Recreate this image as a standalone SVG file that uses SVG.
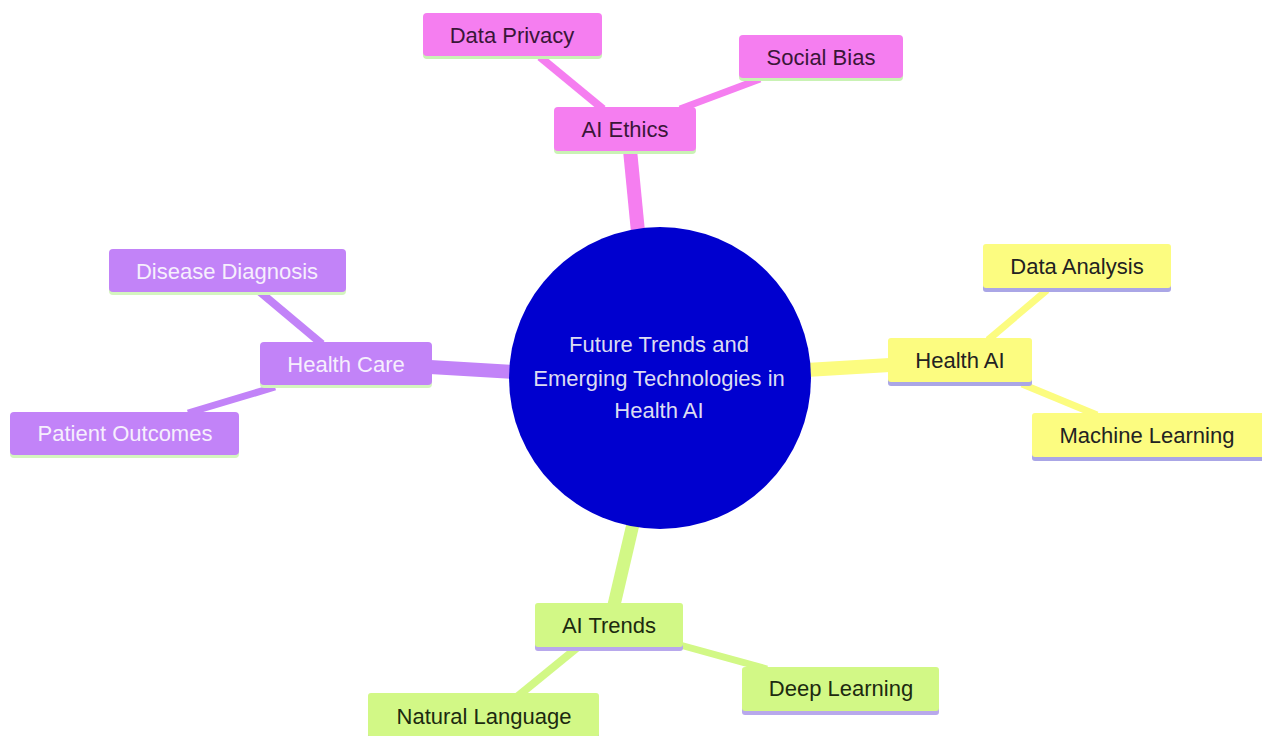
<svg xmlns="http://www.w3.org/2000/svg" width="1262" height="736" viewBox="0 0 1262 736">
<style>
  text { font-family: "Liberation Sans", Arial, sans-serif; font-size: 22px; text-anchor: middle; dominant-baseline: central; }
  .pink rect.box { fill: #f57ef0; }
  .pink rect.edge { fill: #c9f2b4; }
  .pink text { fill: #3a1638; }
  .purple rect.box { fill: #c283f8; }
  .purple rect.edge { fill: #d4f5bf; }
  .purple text { fill: #f6effd; }
  .yellow rect.box { fill: #fcfc80; }
  .yellow rect.edge { fill: #aaa6e6; }
  .yellow text { fill: #222222; }
  .green rect.box { fill: #d2f886; }
  .green rect.edge { fill: #b8a8ec; }
  .green text { fill: #1c2a10; }
  .c-pink { stroke: #f57ef0; }
  .c-purple { stroke: #c283f8; }
  .c-yellow { stroke: #fcfc80; }
  .c-green { stroke: #d2f886; }
  #connectors line { stroke-linecap: butt; fill: none; }
</style>
<rect x="0" y="0" width="1262" height="736" fill="#ffffff"/>
<g id="connectors">
  <line class="c-pink" x1="630" y1="150" x2="638" y2="232" stroke-width="14"/>
  <line class="c-pink" x1="540" y1="57" x2="603" y2="109" stroke-width="8"/>
  <line class="c-pink" x1="760" y1="79" x2="680" y2="109" stroke-width="7"/>
  <line class="c-purple" x1="430" y1="367" x2="514" y2="372" stroke-width="14"/>
  <line class="c-purple" x1="260" y1="292" x2="322" y2="344" stroke-width="8"/>
  <line class="c-purple" x1="188" y1="413" x2="275" y2="387" stroke-width="7"/>
  <line class="c-yellow" x1="806" y1="370" x2="890" y2="365" stroke-width="14"/>
  <line class="c-yellow" x1="1047" y1="290" x2="988" y2="340" stroke-width="7"/>
  <line class="c-yellow" x1="1022" y1="384" x2="1097" y2="415" stroke-width="7"/>
  <line class="c-green" x1="633" y1="524" x2="614" y2="605" stroke-width="13"/>
  <line class="c-green" x1="518" y1="696" x2="578" y2="647" stroke-width="8"/>
  <line class="c-green" x1="680" y1="645" x2="767" y2="669" stroke-width="7"/>
</g>
<g id="root">
  <circle cx="660" cy="378" r="151" fill="#0000cf"/>
  <text x="659" y="344" fill="#dcdcf2">Future Trends and</text>
  <text x="659" y="378" fill="#dcdcf2">Emerging Technologies in</text>
  <text x="659" y="410" fill="#dcdcf2">Health AI</text>
</g>
<g id="ai-ethics" class="pink">
  <rect class="edge" x="554" y="110" width="142" height="44" rx="4"/>
  <rect class="box" x="554" y="107" width="142" height="44" rx="4"/>
  <text x="625" y="129">AI Ethics</text>
</g>
<g id="data-privacy" class="pink">
  <rect class="edge" x="423" y="16" width="179" height="43" rx="4"/>
  <rect class="box" x="423" y="13" width="179" height="43" rx="4"/>
  <text x="512" y="35">Data Privacy</text>
</g>
<g id="social-bias" class="pink">
  <rect class="edge" x="739" y="38" width="164" height="43" rx="4"/>
  <rect class="box" x="739" y="35" width="164" height="43" rx="4"/>
  <text x="821" y="57">Social Bias</text>
</g>
<g id="health-care" class="purple">
  <rect class="edge" x="260" y="345" width="172" height="43" rx="4"/>
  <rect class="box" x="260" y="342" width="172" height="43" rx="4"/>
  <text x="346" y="364">Health Care</text>
</g>
<g id="disease-diagnosis" class="purple">
  <rect class="edge" x="109" y="252" width="237" height="43" rx="4"/>
  <rect class="box" x="109" y="249" width="237" height="43" rx="4"/>
  <text x="227" y="271">Disease Diagnosis</text>
</g>
<g id="patient-outcomes" class="purple">
  <rect class="edge" x="10" y="415" width="229" height="43" rx="4"/>
  <rect class="box" x="10" y="412" width="229" height="43" rx="4"/>
  <text x="125" y="433">Patient Outcomes</text>
</g>
<g id="health-ai" class="yellow">
  <rect class="edge" x="888" y="341" width="144" height="45" rx="3"/>
  <rect class="box" x="888" y="338" width="144" height="44" rx="3"/>
  <text x="960" y="360">Health AI</text>
</g>
<g id="data-analysis" class="yellow">
  <rect class="edge" x="983" y="247" width="188" height="45" rx="3"/>
  <rect class="box" x="983" y="244" width="188" height="44" rx="3"/>
  <text x="1077" y="266">Data Analysis</text>
</g>
<g id="machine-learning" class="yellow">
  <rect class="edge" x="1032" y="416" width="232" height="45" rx="3"/>
  <rect class="box" x="1032" y="413" width="232" height="44" rx="3"/>
  <text x="1147" y="435">Machine Learning</text>
</g>
<g id="ai-trends" class="green">
  <rect class="edge" x="535" y="606" width="148" height="45" rx="3"/>
  <rect class="box" x="535" y="603" width="148" height="44" rx="3"/>
  <text x="609" y="625">AI Trends</text>
</g>
<g id="natural-language" class="green">
  <rect class="edge" x="368" y="696" width="231" height="45" rx="3"/>
  <rect class="box" x="368" y="693" width="231" height="44" rx="3"/>
  <text x="484" y="716">Natural Language</text>
</g>
<g id="deep-learning" class="green">
  <rect class="edge" x="742" y="670" width="197" height="45" rx="3"/>
  <rect class="box" x="742" y="667" width="197" height="44" rx="3"/>
  <text x="841" y="688">Deep Learning</text>
</g>
</svg>
